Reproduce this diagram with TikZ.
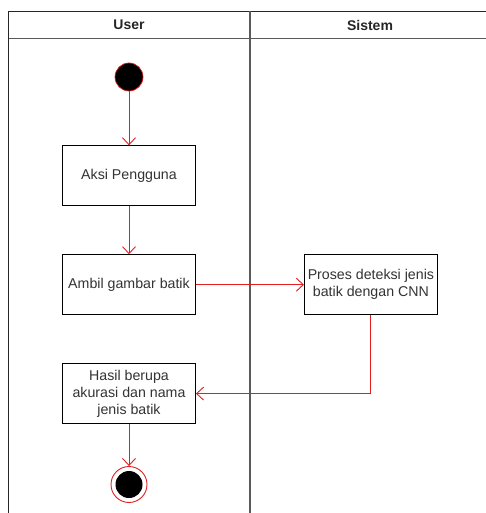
\documentclass[tikz,border=0pt]{standalone}
\usepackage{fontspec}
\setmainfont{Liberation Sans}
\usetikzlibrary{shapes.geometric, arrows.meta, positioning, calc}
\usepackage{xcolor}
\definecolor{flowred}{RGB}{226,30,30}
\definecolor{lanegray}{RGB}{90,90,90}
\tikzstyle{activity} = [rectangle, minimum width=133pt, minimum height=60pt,
    align=center, draw=black, line width=0.9pt, fill=white,
    font=\fontsize{14.2}{16.8}\selectfont, text=black!80]
\tikzstyle{initial} = [circle, minimum size=28pt, inner sep=0pt, fill=black, draw=flowred, line width=0.7pt]
\tikzstyle{final} = [circle, minimum size=36pt, inner sep=0pt, draw=flowred, line width=0.9pt,
    path picture={\fill[black] (path picture bounding box.center) circle (13.5pt);}]
\tikzstyle{lanehead} = [font=\fontsize{14}{16}\selectfont\bfseries, text=black!85]
\tikzstyle{lane} = [line width=1.4pt, draw=lanegray]
\tikzstyle{flow} = [draw=flowred, line width=0.9pt, -{Straight Barb[length=7pt, width=13pt]}]

\begin{document}
\begin{tikzpicture}[x=1pt, y=-1pt, node distance=48pt and 108pt]
\clip (0,0) rectangle (486,513);
\fill[white] (0,0) rectangle (486,513);
% swimlanes
\draw[lane, draw=black!85] (8.5,530) -- (8.5,11.5) -- (500,11.5);
\draw[lane] (8.5,38.5) -- (500,38.5);
\draw[lane] (250,11.5) -- (250,530);
\node (userhd) [lanehead] at (129,25) {User};
\node (sistemhd) [lanehead] at (370,25) {Sistem};

\node (start) [initial] at (129,77) {};
\node (aksi) [activity, below=54pt of start] {Aksi Pengguna};
\node (ambil) [activity, below=of aksi] {Ambil gambar batik};
\node (proses) [activity, right=of ambil] {Proses deteksi jenis\\batik dengan CNN};
\node (hasil) [activity, below=of ambil] {Hasil berupa\\akurasi dan nama\\jenis batik};
\node (finish) [final, below=42pt of hasil] {};

\draw[flow] (start) -- (aksi);
\draw[flow] (aksi) -- (ambil);
\draw[flow] (ambil) -- (proses);
\draw[flow] (proses.south) |- (hasil.east);
\draw[flow] (hasil) -- (finish);
\end{tikzpicture}
\end{document}
